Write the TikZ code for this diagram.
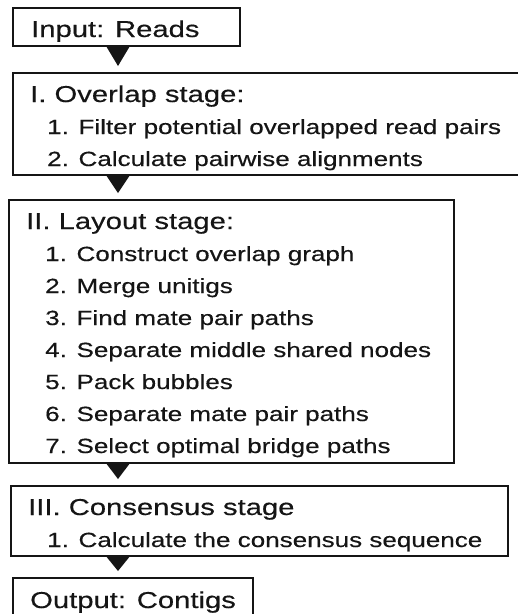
\documentclass[tikz,border=0pt]{standalone}
\usepackage{fontspec}
\setmainfont{Liberation Sans}[FakeStretch=1.27,FakeBold=0.35]
\usetikzlibrary{calc}
\definecolor{ink}{HTML}{151515}
\begin{document}
\begin{tikzpicture}[x=1pt,y=-1pt,
  stagebox/.style={draw=ink, line width=1.8pt, inner sep=0pt, anchor=north west},
  head/.style={anchor=base west, inner sep=0pt, text=ink, font=\fontsize{23}{23}\selectfont},
  item/.style={anchor=base west, inner sep=0pt, text=ink, font=\fontsize{20.5}{20.5}\selectfont},
  tri/.style={fill=ink}]
\clip (0,0) rectangle (518,614);
\fill[white] (0,0) rectangle (518,614);
% boxes
\node[stagebox, minimum width=227pt, minimum height=38pt] (in) at (12,7) {};
\node[stagebox, minimum width=512pt, minimum height=102pt] (ov) at (12,72) {};
\node[stagebox, minimum width=445pt, minimum height=263pt] (lay) at (8,199) {};
\node[stagebox, minimum width=497pt, minimum height=70pt] (con) at (10,485) {};
\node[stagebox, minimum width=240pt, minimum height=50pt] (out) at (12,577) {};
% texts
\node[head] (t0) at (31,37) {Input: Reads};
\node[head] (t1) at (30,102) {I. Overlap stage:};
\node[item] (t11) at (47,134) {1. Filter potential overlapped read pairs};
\node[item] (t12) at (47,166) {2. Calculate pairwise alignments};
\node[head] (t2) at (26,229) {II. Layout stage:};
\node[item] (t21) at (45,261) {1. Construct overlap graph};
\node[item] (t22) at (45,293) {2. Merge unitigs};
\node[item] (t23) at (45,325) {3. Find mate pair paths};
\node[item] (t24) at (45,357) {4. Separate middle shared nodes};
\node[item] (t25) at (45,389) {5. Pack bubbles};
\node[item] (t26) at (45,421) {6. Separate mate pair paths};
\node[item] (t27) at (45,453) {7. Select optimal bridge paths};
\node[head] (t3) at (28,515) {III. Consensus stage};
\node[item] (t31) at (47,547) {1. Calculate the consensus sequence};
\node[head] (t4) at (30,608) {Output: Contigs};
% connectors (triangular arrowheads)
\coordinate (ax) at (118,0);
\fill[tri] (in.south -| ax) ++(-11.5,0) -- ++(23,0) -- ($(ov.north -| ax)+(0,-6)$) -- cycle;
\fill[tri] (ov.south -| ax) ++(-11.5,0) -- ++(23,0) -- ($(lay.north -| ax)+(0,-6)$) -- cycle;
\fill[tri] (lay.south -| ax) ++(-11.5,0) -- ++(23,0) -- ($(con.north -| ax)+(0,-6)$) -- cycle;
\fill[tri] (con.south -| ax) ++(-11.5,0) -- ++(23,0) -- ($(out.north -| ax)+(0,-6)$) -- cycle;
\end{tikzpicture}
\end{document}
